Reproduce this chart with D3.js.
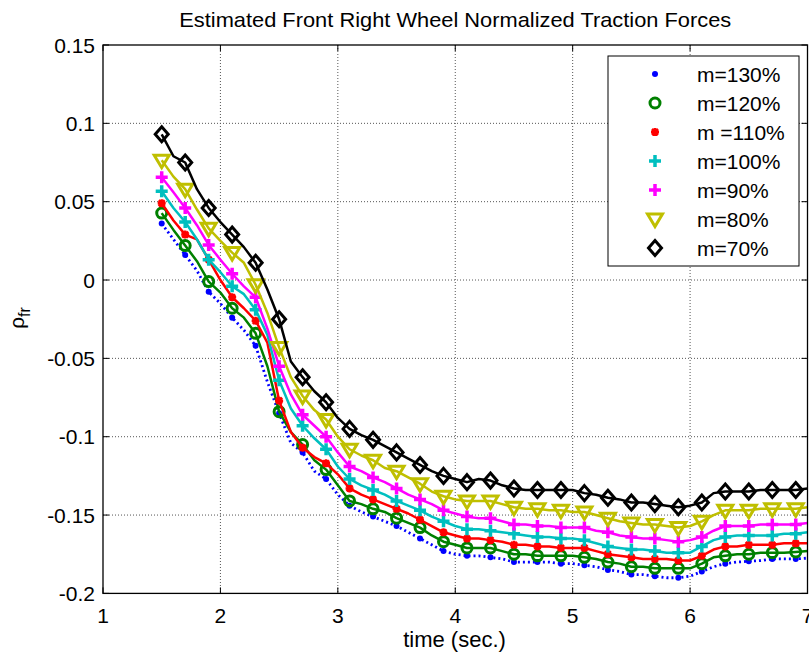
<!DOCTYPE html>
<html>
<head>
<meta charset="utf-8">
<script src="https://cdn.jsdelivr.net/npm/d3@7"></script>
<style>
  body { margin: 0; background: #fff; }
  svg { display: block; }
  text { font-family: "Liberation Sans", Arial, sans-serif; fill: #000; }
</style>
</head>
<body>
<div id="chart"></div>
<script>
// sample times (sec.), markers drawn on every second sample
const time = [1.5, 1.6, 1.7, 1.8, 1.9, 2.0, 2.1, 2.2, 2.3, 2.4, 2.5, 2.6, 2.7, 2.8, 2.9, 3.0,
    3.1, 3.2, 3.3, 3.4, 3.5, 3.6, 3.7, 3.8, 3.9, 4.0, 4.1, 4.2, 4.3, 4.4, 4.5, 4.6, 4.7, 4.8, 4.9, 5.0,
    5.1, 5.2, 5.3, 5.4, 5.5, 5.6, 5.7, 5.8, 5.9, 6.0, 6.1, 6.2, 6.3, 6.4, 6.5, 6.6, 6.7, 6.8, 6.9, 7.0];

const m130 = [0.036, 0.026, 0.016, 0.006, -0.0075, -0.015, -0.024, -0.032, -0.042, -0.065, -0.085, -0.104,
    -0.110, -0.122, -0.127, -0.137, -0.144, -0.148, -0.151, -0.154, -0.157, -0.161, -0.165, -0.169, -0.173,
    -0.175, -0.176, -0.176, -0.177, -0.178, -0.180, -0.180, -0.180, -0.180, -0.181, -0.181, -0.182, -0.183,
    -0.185, -0.186, -0.188, -0.188, -0.189, -0.190, -0.190, -0.189, -0.186, -0.183, -0.181, -0.180, -0.1795,
    -0.179, -0.178, -0.178, -0.178, -0.1775];
const m120 = [0.0427, 0.032, 0.022, 0.012, -0.001, -0.008, -0.018, -0.024, -0.034, -0.055, -0.084, -0.097,
    -0.105, -0.115, -0.121, -0.131, -0.141, -0.143, -0.146, -0.148, -0.152, -0.155, -0.158, -0.163, -0.167,
    -0.169, -0.171, -0.171, -0.171, -0.173, -0.175, -0.175, -0.176, -0.176, -0.176, -0.176, -0.177, -0.178,
    -0.180, -0.181, -0.183, -0.183, -0.184, -0.184, -0.184, -0.184, -0.181, -0.177, -0.176, -0.175, -0.175,
    -0.174, -0.174, -0.174, -0.1735, -0.173];
const m110 = [0.049, 0.038, 0.029, 0.026, 0.013, 0.000, -0.011, -0.018, -0.026, -0.040, -0.077, -0.097,
    -0.107, -0.113, -0.117, -0.124, -0.133, -0.137, -0.140, -0.143, -0.146, -0.149, -0.153, -0.157, -0.161,
    -0.163, -0.165, -0.165, -0.166, -0.167, -0.169, -0.169, -0.170, -0.170, -0.171, -0.171, -0.171, -0.173,
    -0.175, -0.176, -0.177, -0.178, -0.178, -0.178, -0.179, -0.179, -0.176, -0.172, -0.170, -0.170, -0.169,
    -0.169, -0.169, -0.168, -0.168, -0.168];
const m100 = [0.0566, 0.046, 0.037, 0.026, 0.013, 0.005, -0.004, -0.009, -0.019, -0.035, -0.064, -0.082,
    -0.093, -0.101, -0.108, -0.119, -0.127, -0.131, -0.134, -0.137, -0.141, -0.144, -0.147, -0.151, -0.154,
    -0.157, -0.159, -0.159, -0.160, -0.161, -0.162, -0.163, -0.164, -0.164, -0.165, -0.165, -0.166, -0.168,
    -0.170, -0.171, -0.172, -0.172, -0.173, -0.174, -0.174, -0.174, -0.170, -0.166, -0.164, -0.163, -0.163,
    -0.163, -0.163, -0.162, -0.162, -0.161];
const m90 = [0.0656, 0.056, 0.046, 0.035, 0.0224, 0.013, 0.004, -0.004, -0.011, -0.031, -0.055, -0.073,
    -0.086, -0.093, -0.100, -0.110, -0.119, -0.122, -0.126, -0.129, -0.133, -0.137, -0.140, -0.143, -0.147,
    -0.149, -0.151, -0.152, -0.152, -0.154, -0.156, -0.156, -0.157, -0.157, -0.158, -0.158, -0.158, -0.160,
    -0.161, -0.163, -0.164, -0.165, -0.165, -0.166, -0.167, -0.166, -0.164, -0.160, -0.157, -0.157, -0.157,
    -0.156, -0.156, -0.156, -0.156, -0.155];
const m80 = [0.0765, 0.066, 0.058, 0.045, 0.033, 0.025, 0.0175, 0.011, -0.003, -0.021, -0.043, -0.062,
    -0.074, -0.083, -0.089, -0.100, -0.108, -0.112, -0.115, -0.120, -0.122, -0.126, -0.130, -0.135, -0.138,
    -0.140, -0.141, -0.141, -0.141, -0.143, -0.145, -0.146, -0.146, -0.147, -0.147, -0.148, -0.148, -0.150,
    -0.152, -0.154, -0.155, -0.156, -0.156, -0.157, -0.158, -0.157, -0.154, -0.150, -0.147, -0.147, -0.147,
    -0.146, -0.146, -0.146, -0.146, -0.145];
const m70 = [0.093, 0.079, 0.075, 0.058, 0.046, 0.037, 0.029, 0.021, 0.011, -0.006, -0.025, -0.052,
    -0.062, -0.071, -0.078, -0.088, -0.095, -0.099, -0.102, -0.106, -0.110, -0.114, -0.118, -0.122, -0.125,
    -0.127, -0.129, -0.127, -0.128, -0.131, -0.133, -0.134, -0.134, -0.134, -0.134, -0.134, -0.136, -0.137,
    -0.139, -0.140, -0.142, -0.142, -0.143, -0.144, -0.145, -0.144, -0.142, -0.136, -0.135, -0.135, -0.135,
    -0.134, -0.134, -0.134, -0.134, -0.133];

const seriesNames = ['m=130%', 'm=120%', 'm =110%', 'm=100%', 'm=90%', 'm=80%', 'm=70%'];
const seriesValues = [m130, m120, m110, m100, m90, m80, m70];
const xTicks = [1, 2, 3, 4, 5, 6, 7];
const yTicks = [0.15, 0.1, 0.05, 0, -0.05, -0.1, -0.15, -0.2];
const yTickLabels = ['0.15', '0.1', '0.05', '0', '-0.05', '-0.1', '-0.15', '-0.2'];

// line / marker styles per series
const styles = [
    {color: '#0000ff', marker: 'dot', dash: '2,3'},
    {color: '#008000', marker: 'circle'},
    {color: '#ff0000', marker: 'star'},
    {color: '#00bfbf', marker: 'plus'},
    {color: '#ff00ff', marker: 'plus'},
    {color: '#bfbf00', marker: 'triangle'},
    {color: '#000000', marker: 'diamond'}
];

const W = 809, H = 654;
const margin = {top: 45, right: 1.5, bottom: 60.6, left: 103};
const width = W - margin.left - margin.right;
const height = H - margin.top - margin.bottom;

const svg = d3.select('#chart')
    .append('svg')
    .attr('width', W)
    .attr('height', H);

const g = svg.append('g')
    .attr('transform', `translate(${margin.left},${margin.top})`);

const x = d3.scaleLinear().domain([1, 7]).range([0, width]);
const y = d3.scaleLinear().domain([-0.2, 0.15]).range([height, 0]);

// grid
g.append('g').selectAll('line')
    .data(xTicks.slice(1, -1))
    .enter().append('line')
    .attr('x1', d => x(d)).attr('x2', d => x(d))
    .attr('y1', 0).attr('y2', height)
    .attr('stroke', '#555').attr('stroke-width', 1).attr('stroke-dasharray', '1,2');
g.append('g').selectAll('line')
    .data(yTicks.slice(1, -1))
    .enter().append('line')
    .attr('y1', d => y(d)).attr('y2', d => y(d))
    .attr('x1', 0).attr('x2', width)
    .attr('stroke', '#555').attr('stroke-width', 1).attr('stroke-dasharray', '1,2');

// marker drawing
function drawMarker(sel, type, color) {
    if (type === 'dot') {
        sel.append('circle').attr('r', 3).attr('fill', color);
    } else if (type === 'circle') {
        sel.append('circle').attr('r', 5).attr('fill', 'none')
            .attr('stroke', color).attr('stroke-width', 3);
    } else if (type === 'star') {
        sel.append('path').attr('d', 'M-4,0H4M0,-4V4M-3,-3L3,3M-3,3L3,-3')
            .attr('stroke', color).attr('stroke-width', 2.5).attr('fill', 'none');
    } else if (type === 'plus') {
        sel.append('path').attr('d', 'M-6,0H6M0,-6V6')
            .attr('stroke', color).attr('stroke-width', 3.5).attr('fill', 'none');
    } else if (type === 'triangle') {
        sel.append('path').attr('d', 'M-7.5,-5H7.5L0,7.5Z')
            .attr('stroke', color).attr('stroke-width', 3).attr('fill', 'none')
            .attr('stroke-linejoin', 'miter');
    } else if (type === 'diamond') {
        sel.append('path').attr('d', 'M0,-7.5L6.5,0L0,7.5L-6.5,0Z')
            .attr('stroke', color).attr('stroke-width', 3).attr('fill', 'none');
    }
}

const line = d3.line()
    .x(d => x(d[0]))
    .y(d => y(d[1]));

// series lines and markers
seriesValues.forEach((vals, i) => {
    const st = styles[i];
    const pts = time.map((t, k) => [t, vals[k]]);
    g.append('path')
        .datum(pts)
        .attr('d', line)
        .attr('fill', 'none')
        .attr('stroke', st.color)
        .attr('stroke-width', st.dash ? 2.8 : 2.5)
        .attr('stroke-dasharray', st.dash || null)
        .attr('stroke-linejoin', 'round');

    g.append('g').selectAll('g')
        .data(pts.filter((d, k) => k % 2 === 0))
        .enter().append('g')
        .attr('transform', d => `translate(${x(d[0])},${y(d[1])})`)
        .each(function() { drawMarker(d3.select(this), st.marker, st.color); });
});

// box and inward ticks
g.append('rect')
    .attr('width', width).attr('height', height)
    .attr('fill', 'none').attr('stroke', '#000').attr('stroke-width', 1.3);

const tl = 6;
xTicks.forEach(t => {
    g.append('line').attr('x1', x(t)).attr('x2', x(t)).attr('y1', height).attr('y2', height - tl)
        .attr('stroke', '#000');
    g.append('line').attr('x1', x(t)).attr('x2', x(t)).attr('y1', 0).attr('y2', tl)
        .attr('stroke', '#000');
});
yTicks.forEach(t => {
    g.append('line').attr('y1', y(t)).attr('y2', y(t)).attr('x1', 0).attr('x2', tl)
        .attr('stroke', '#000');
    g.append('line').attr('y1', y(t)).attr('y2', y(t)).attr('x1', width).attr('x2', width - tl)
        .attr('stroke', '#000');
});

// tick labels
g.append('g').selectAll('text')
    .data(xTicks)
    .enter().append('text')
    .attr('x', d => x(d))
    .attr('y', height + 30)
    .attr('text-anchor', 'middle')
    .style('font-size', '21px')
    .text(d => d);

g.append('g').selectAll('text')
    .data(yTicks)
    .enter().append('text')
    .attr('x', -8)
    .attr('y', d => y(d))
    .attr('dy', '0.36em')
    .attr('text-anchor', 'end')
    .style('font-size', '21px')
    .text((d, i) => yTickLabels[i]);

// title and axis labels
svg.append('text')
    .attr('x', margin.left + width / 2)
    .attr('y', 27)
    .attr('text-anchor', 'middle')
    .style('font-size', '21px')
    .attr('textLength', 552)
    .attr('lengthAdjust', 'spacingAndGlyphs')
    .text('Estimated Front Right Wheel Normalized Traction Forces');

svg.append('text')
    .attr('x', 454.5)
    .attr('y', 647)
    .attr('text-anchor', 'middle')
    .style('font-size', '22px')
    .text('time (sec.)');

const ylab = svg.append('text')
    .attr('transform', 'translate(24,318) rotate(-90)')
    .attr('text-anchor', 'middle')
    .style('font-size', '21px');
ylab.append('tspan').text('\u03c1');
ylab.append('tspan').attr('dy', 6).style('font-size', '16px').text('fr');

// legend
const legend = svg.append('g').attr('transform', 'translate(608,56)');
legend.append('rect')
    .attr('width', 191).attr('height', 210)
    .attr('fill', '#fff').attr('stroke', '#000').attr('stroke-width', 1);

seriesNames.forEach((name, i) => {
    const ry = 18 + i * 29;
    const item = legend.append('g').attr('transform', `translate(47,${ry})`);
    drawMarker(item, styles[i].marker, styles[i].color);
    legend.append('text')
        .attr('x', 89)
        .attr('y', ry)
        .attr('dy', '0.36em')
        .style('font-size', '21px')
        .text(name);
});
</script>
</body>
</html>
